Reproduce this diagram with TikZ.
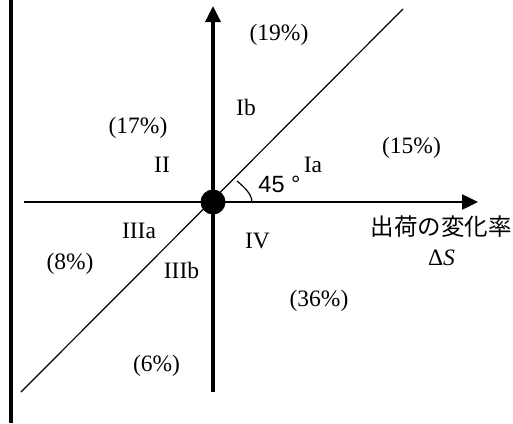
\documentclass[tikz,border=0pt]{standalone}
\usepackage{fontspec}
\setmainfont{Liberation Serif}
\newfontfamily\jafont{Noto Sans CJK JP}
\newfontfamily\arialfont{Liberation Sans}
\usetikzlibrary{arrows.meta,positioning}

\begin{document}
\begin{tikzpicture}[x=0.5pt,y=-0.5pt,
  every node/.style={inner sep=0pt,outer sep=0pt,font=\fontsize{11.75}{14}\selectfont},
  lbl/.style={anchor=base},
  axis/.style={-{Triangle[length=8pt,width=7.5pt]}},
  dot/.style={circle,fill,minimum size=12.5pt},
]
\useasboundingbox (0,0) rectangle (513,423);

% the frame line on the left
\draw[line width=1.75pt] (11,0) -- (11,423);

% the end points
\coordinate (xl) at (24,202);
\coordinate (xr) at (478,202);
\coordinate (yb) at (213,392);
\coordinate (yt) at (213,6);
\coordinate (dl) at (21,392);
\coordinate (dr) at (403,9);

% the axes and the diagonal
\draw[axis,line width=1.25pt] (xl) -- (xr);
\draw[axis,line width=1.75pt] (yb) -- (yt);
\draw[line width=0.6pt] (dl) -- (dr);

% the origin
\node[dot] (o) at (213,202) {};

% the angle
\coordinate (a1) at (237,181);
\coordinate (a2) at (252,202);
\draw[line width=0.6pt] (a1) .. controls (244,187) and (252,194) .. (a2);
\node[lbl,font=\arialfont\fontsize{11.75}{14}\selectfont] (ang) at (279.5,192) {45 °};

% the regions
\node[lbl] (p19) at (279,40) {(19\%)};
\node[lbl] (ib) at (246,115) {Ib};
\node[lbl] (p17) at (138,133) {(17\%)};
\node[lbl] (ii) at (162,172) {II};
\node[lbl] (ia) at (313,172) {Ia};
\node[lbl] (p15) at (411.5,153) {(15\%)};
\node[lbl] (iiia) at (139,238) {IIIa};
\node[lbl] (iv) at (257.5,248) {IV};
\node[lbl] (p8) at (70,269) {(8\%)};
\node[lbl] (iiib) at (181.5,278) {IIIb};
\node[lbl] (p36) at (319,306) {(36\%)};
\node[lbl] (p6) at (156.5,371) {(6\%)};

% the axis label
\node[font=\jafont\fontsize{11.75}{14}\selectfont] (xlab) at (441,227) {出荷の変化率};
\node[lbl] (ds) at (441.5,265) {Δ\textit{S}};
\end{tikzpicture}
\end{document}
